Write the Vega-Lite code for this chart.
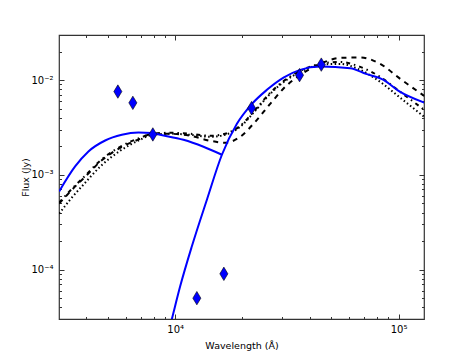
{
  "$schema": "https://vega.github.io/schema/vega-lite/v6.json",
  "width": 365,
  "height": 284,
  "autosize": {"type": "none"},
  "padding": {"left": 59, "top": 35, "right": 47, "bottom": 37},
  "background": "white",
  "config": {
    "view": {"stroke": "#333333", "strokeWidth": 1.2},
    "font": "DejaVu Sans",
    "axis": {"domain": false, "grid": false, "labelFont": "DejaVu Sans", "titleFont": "DejaVu Sans", "labelFontSize": 10, "titleFontSize": 9.5, "titleFontWeight": "normal", "labelColor": "#000000", "titleColor": "#000000", "tickColor": "#333333", "tickWidth": 1}
  },
  "datasets": {
    "lines": [
      {"series": "star", "lam": 3024, "flux": 0.000668},
      {"series": "star", "lam": 3566, "flux": 0.001227},
      {"series": "star", "lam": 4090, "flux": 0.001766},
      {"series": "star", "lam": 4860, "flux": 0.002306},
      {"series": "star", "lam": 5770, "flux": 0.00265},
      {"series": "star", "lam": 6848, "flux": 0.0028},
      {"series": "star", "lam": 7866, "flux": 0.00277},
      {"series": "star", "lam": 8566, "flux": 0.00265},
      {"series": "star", "lam": 10894, "flux": 0.002345},
      {"series": "star", "lam": 13390, "flux": 0.001979},
      {"series": "star", "lam": 16190, "flux": 0.00163},
      {"series": "dust", "lam": 9300, "flux": 0.000021},
      {"series": "dust", "lam": 9665, "flux": 0.00003},
      {"series": "dust", "lam": 10530, "flux": 0.0000665},
      {"series": "dust", "lam": 11880, "flux": 0.000176},
      {"series": "dust", "lam": 13870, "flux": 0.000546},
      {"series": "dust", "lam": 16190, "flux": 0.00163},
      {"series": "dust", "lam": 18900, "flux": 0.00346},
      {"series": "dust", "lam": 21970, "flux": 0.00555},
      {"series": "dust", "lam": 25740, "flux": 0.0079},
      {"series": "dust", "lam": 30550, "flux": 0.01065},
      {"series": "dust", "lam": 36290, "flux": 0.01285},
      {"series": "dust", "lam": 44610, "flux": 0.01391},
      {"series": "dust", "lam": 60770, "flux": 0.01339},
      {"series": "dust", "lam": 71500, "flux": 0.01165},
      {"series": "dust", "lam": 85660, "flux": 0.01007},
      {"series": "dust", "lam": 100000, "flux": 0.00771},
      {"series": "dust", "lam": 130300, "flux": 0.0058},
      {"series": "dashed", "lam": 3024, "flux": 0.000496},
      {"series": "dashed", "lam": 3386, "flux": 0.000663},
      {"series": "dashed", "lam": 3954, "flux": 0.000955},
      {"series": "dashed", "lam": 4614, "flux": 0.001375},
      {"series": "dashed", "lam": 5672, "flux": 0.001931},
      {"series": "dashed", "lam": 6971, "flux": 0.002403},
      {"series": "dashed", "lam": 7889, "flux": 0.002714},
      {"series": "dashed", "lam": 9497, "flux": 0.002714},
      {"series": "dashed", "lam": 11672, "flux": 0.002585},
      {"series": "dashed", "lam": 14346, "flux": 0.002289},
      {"series": "dashed", "lam": 16746, "flux": 0.002181},
      {"series": "dashed", "lam": 19548, "flux": 0.002523},
      {"series": "dashed", "lam": 22820, "flux": 0.003632},
      {"series": "dashed", "lam": 26635, "flux": 0.005623},
      {"series": "dashed", "lam": 31090, "flux": 0.0085},
      {"series": "dashed", "lam": 36290, "flux": 0.01137},
      {"series": "dashed", "lam": 44610, "flux": 0.01486},
      {"series": "dashed", "lam": 54820, "flux": 0.01719},
      {"series": "dashed", "lam": 67370, "flux": 0.0174},
      {"series": "dashed", "lam": 82790, "flux": 0.01486},
      {"series": "dashed", "lam": 101760, "flux": 0.01032},
      {"series": "dashed", "lam": 130300, "flux": 0.00683},
      {"series": "dashdot", "lam": 3024, "flux": 0.000508},
      {"series": "dashdot", "lam": 3386, "flux": 0.00068},
      {"series": "dashdot", "lam": 3954, "flux": 0.000978},
      {"series": "dashdot", "lam": 4614, "flux": 0.001408},
      {"series": "dashdot", "lam": 5672, "flux": 0.001979},
      {"series": "dashdot", "lam": 6971, "flux": 0.002462},
      {"series": "dashdot", "lam": 7889, "flux": 0.002714},
      {"series": "dashdot", "lam": 9497, "flux": 0.00278},
      {"series": "dashdot", "lam": 11672, "flux": 0.002714},
      {"series": "dashdot", "lam": 14346, "flux": 0.002585},
      {"series": "dashdot", "lam": 16746, "flux": 0.002714},
      {"series": "dashdot", "lam": 19548, "flux": 0.003296},
      {"series": "dashdot", "lam": 22820, "flux": 0.00486},
      {"series": "dashdot", "lam": 26635, "flux": 0.00735},
      {"series": "dashdot", "lam": 31090, "flux": 0.01007},
      {"series": "dashdot", "lam": 36290, "flux": 0.01253},
      {"series": "dashdot", "lam": 44610, "flux": 0.01486},
      {"series": "dashdot", "lam": 54820, "flux": 0.0156},
      {"series": "dashdot", "lam": 67370, "flux": 0.01381},
      {"series": "dashdot", "lam": 82790, "flux": 0.01083},
      {"series": "dashdot", "lam": 101760, "flux": 0.00752},
      {"series": "dashdot", "lam": 130300, "flux": 0.00486},
      {"series": "dotted", "lam": 3024, "flux": 0.000389},
      {"series": "dotted", "lam": 3386, "flux": 0.000546},
      {"series": "dotted", "lam": 3954, "flux": 0.000825},
      {"series": "dotted", "lam": 4614, "flux": 0.001217},
      {"series": "dotted", "lam": 5672, "flux": 0.001796},
      {"series": "dotted", "lam": 6971, "flux": 0.002346},
      {"series": "dotted", "lam": 7889, "flux": 0.002649},
      {"series": "dotted", "lam": 9497, "flux": 0.002714},
      {"series": "dotted", "lam": 11672, "flux": 0.002649},
      {"series": "dotted", "lam": 14346, "flux": 0.002523},
      {"series": "dotted", "lam": 16746, "flux": 0.002649},
      {"series": "dotted", "lam": 19548, "flux": 0.003217},
      {"series": "dotted", "lam": 22820, "flux": 0.004745},
      {"series": "dotted", "lam": 26635, "flux": 0.00717},
      {"series": "dotted", "lam": 31090, "flux": 0.00983},
      {"series": "dotted", "lam": 36290, "flux": 0.01224},
      {"series": "dotted", "lam": 44610, "flux": 0.0145},
      {"series": "dotted", "lam": 54820, "flux": 0.01486},
      {"series": "dotted", "lam": 67370, "flux": 0.01284},
      {"series": "dotted", "lam": 82790, "flux": 0.00959},
      {"series": "dotted", "lam": 101760, "flux": 0.00651},
      {"series": "dotted", "lam": 130300, "flux": 0.0041}
    ],
    "phot": [
      {"lam": 5540, "flux": 0.00758},
      {"lam": 6466, "flux": 0.00576},
      {"lam": 7945, "flux": 0.00267},
      {"lam": 12505, "flux": 0.0000498},
      {"lam": 16520, "flux": 0.00009},
      {"lam": 21980, "flux": 0.00507},
      {"lam": 36040, "flux": 0.0113},
      {"lam": 45100, "flux": 0.0146}
    ]
  },
  "layer": [
    {
      "data": {"name": "lines"},
      "transform": [{"filter": "datum.series != 'star' && datum.series != 'dust'"}],
      "mark": {"type": "line", "clip": true, "color": "#000000", "strokeWidth": 2, "interpolate": "monotone"},
      "encoding": {
        "x": {"field": "lam", "type": "quantitative", "scale": {"type": "log", "domain": [3020, 130000], "nice": false},
          "axis": {"orient": "bottom", "title": "Wavelength (Å)", "titleX": 182.5, "titleY": 26, "titleBaseline": "middle", "titleAnchor": null, "titleAlign": "center",
            "values": [4000, 5000, 6000, 7000, 8000, 9000, 10000, 20000, 30000, 40000, 50000, 60000, 70000, 80000, 90000, 100000],
            "labelExpr": "datum.value == 10000 ? '10⁴' : datum.value == 100000 ? '10⁵' : ''",
            "tickSize": {"condition": {"test": "datum.value == 10000 || datum.value == 100000", "value": -5}, "value": -2.5},
            "labelPadding": 10, "labelFlush": false, "labelOverlap": false}},
        "y": {"field": "flux", "type": "quantitative", "scale": {"type": "log", "domain": [0.00003, 0.03], "nice": false},
          "axis": {"orient": "left", "title": "Flux (Jy)", "titleX": -34, "titleY": 142, "titleBaseline": "middle", "titleAnchor": null, "titleAlign": "center",
            "values": [0.00004, 0.00005, 0.00006, 0.00007, 0.00008, 0.00009, 0.0001, 0.0002, 0.0003, 0.0004, 0.0005, 0.0006, 0.0007, 0.0008, 0.0009, 0.001, 0.002, 0.003, 0.004, 0.005, 0.006, 0.007, 0.008, 0.009, 0.01, 0.02],
            "labelExpr": "datum.value == 0.01 ? '10⁻²' : datum.value == 0.001 ? '10⁻³' : datum.value == 0.0001 ? '10⁻⁴' : ''",
            "tickSize": {"condition": {"test": "datum.value == 0.01 || datum.value == 0.001 || datum.value == 0.0001", "value": -5}, "value": -2.5},
            "labelPadding": 11, "labelFlush": false, "labelOverlap": false}},
        "strokeDash": {"field": "series", "type": "nominal", "scale": {"domain": ["dashed", "dashdot", "dotted"], "range": [[5, 5], [4, 4, 1.5, 4], [1.5, 2.5]]}, "legend": null}
      }
    },
    {
      "data": {"name": "lines"},
      "transform": [{"filter": "datum.series == 'star' || datum.series == 'dust'"}],
      "mark": {"type": "line", "clip": true, "color": "#0000ff", "strokeWidth": 2, "interpolate": "monotone"},
      "encoding": {
        "x": {"field": "lam", "type": "quantitative", "axis": null},
        "y": {"field": "flux", "type": "quantitative", "axis": null},
        "detail": {"field": "series", "type": "nominal"}
      }
    },
    {
      "data": {"name": "phot"},
      "mark": {"type": "point", "shape": "M0,-1L0.6,0L0,1L-0.6,0Z", "filled": true, "fill": "#0000ff", "stroke": "#000000", "strokeWidth": 0.6, "size": 180, "opacity": 1, "clip": true},
      "encoding": {
        "x": {"field": "lam", "type": "quantitative", "axis": null},
        "y": {"field": "flux", "type": "quantitative", "axis": null}
      }
    },
    {
      "data": {"name": "phot"},
      "mark": {"type": "point", "opacity": 0},
      "encoding": {
        "x": {"field": "lam", "type": "quantitative",
          "axis": {"orient": "top", "title": null, "labels": false,
            "values": [4000, 5000, 6000, 7000, 8000, 9000, 10000, 20000, 30000, 40000, 50000, 60000, 70000, 80000, 90000, 100000],
            "tickSize": {"condition": {"test": "datum.value == 10000 || datum.value == 100000", "value": -5}, "value": -2.5}}},
        "y": {"field": "flux", "type": "quantitative",
          "axis": {"orient": "right", "title": null, "labels": false,
            "values": [0.00004, 0.00005, 0.00006, 0.00007, 0.00008, 0.00009, 0.0001, 0.0002, 0.0003, 0.0004, 0.0005, 0.0006, 0.0007, 0.0008, 0.0009, 0.001, 0.002, 0.003, 0.004, 0.005, 0.006, 0.007, 0.008, 0.009, 0.01, 0.02],
            "tickSize": {"condition": {"test": "datum.value == 0.01 || datum.value == 0.001 || datum.value == 0.0001", "value": -5}, "value": -2.5}}}
      }
    }
  ],
  "resolve": {"axis": {"x": "independent", "y": "independent"}}
}
